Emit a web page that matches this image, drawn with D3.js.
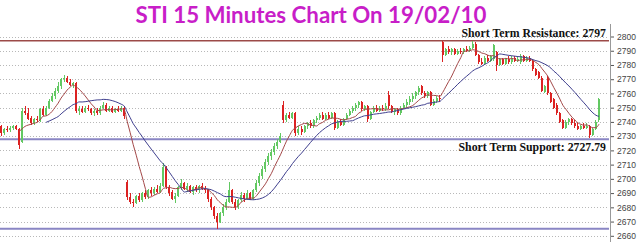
<!DOCTYPE html>
<html>
<head>
<meta charset="utf-8">
<script src="https://cdn.jsdelivr.net/npm/d3@7"></script>
<style>
  body { margin: 0; background: #fff; }
  svg { display: block; }
</style>
</head>
<body>
<div id="chart"></div>
<script>
const width = 640, height = 242;

// 15 minute bars
const opens = [2737,2732,2735,2734,2736,2737,2735,2726,2748,2746,2743,2739,2742,2741,2749,2745,2750,2755,2758,2762,
  2765,2770,2771,2768,2766,2767,2748,2749,2747,2750,2749,2746,2748,2746,2750,2752,2748,2750,2747,2749,
  2748,2750,2698,2687,2684,2683,2688,2685,2690,2687,2692,2690,2693,2691,2695,2708,2694,2691,2686,2688,
  2694,2697,2693,2695,2691,2694,2692,2695,2693,2692,2686,2680,2674,2670,2676,2680,2684,2692,2684,2680,
  2685,2689,2686,2690,2686,2692,2697,2702,2707,2712,2716,2719,2723,2726,2752,2741,2745,2743,2746,2732,
  2735,2733,2737,2739,2737,2741,2743,2745,2742,2745,2743,2746,2736,2740,2738,2742,2745,2748,2750,2752,
  2754,2749,2751,2742,2747,2750,2748,2750,2749,2759,2751,2747,2749,2746,2750,2752,2754,2756,2758,2761,
  2765,2760,2758,2761,2752,2755,2757,2796,2787,2791,2789,2791,2788,2790,2789,2791,2790,2792,2795,2787,
  2782,2781,2785,2783,2784,2789,2780,2784,2781,2784,2782,2785,2783,2782,2786,2783,2785,2783,2777,2775,
  2771,2761,2771,2760,2756,2752,2746,2741,2736,2740,2742,2739,2737,2735,2737,2736,2737,2731,2735,2741];
const highs = [2738,2736,2737,2737,2738,2738,2736,2750,2751,2750,2744,2743,2744,2750,2751,2751,2756,2760,2764,2768,
  2771,2773,2772,2770,2768,2768,2751,2751,2751,2752,2750,2749,2750,2751,2754,2753,2751,2751,2750,2751,
  2751,2751,2699,2690,2686,2689,2690,2691,2692,2693,2694,2694,2696,2697,2711,2709,2696,2692,2690,2695,
  2700,2698,2697,2696,2695,2696,2696,2697,2695,2693,2687,2681,2676,2677,2682,2686,2698,2693,2686,2686,
  2691,2690,2692,2691,2693,2699,2704,2709,2714,2718,2721,2725,2728,2732,2755,2746,2747,2747,2747,2737,
  2737,2738,2740,2741,2742,2744,2746,2747,2746,2747,2747,2747,2741,2742,2743,2746,2749,2751,2753,2755,
  2755,2752,2752,2748,2751,2752,2751,2752,2753,2762,2752,2750,2750,2751,2753,2756,2758,2760,2762,2765,
  2766,2762,2762,2762,2756,2758,2759,2797,2792,2793,2792,2792,2791,2792,2792,2793,2793,2797,2796,2788,
  2785,2786,2787,2787,2795,2790,2785,2785,2785,2786,2786,2786,2786,2788,2787,2786,2786,2784,2778,2776,
  2772,2766,2772,2761,2757,2753,2747,2742,2741,2743,2743,2741,2739,2738,2739,2739,2738,2736,2741,2757];
const lows = [2730,2731,2733,2733,2734,2734,2721,2725,2745,2741,2738,2738,2740,2740,2744,2744,2749,2754,2756,2760,
  2763,2768,2767,2765,2764,2746,2745,2746,2746,2748,2745,2744,2745,2745,2749,2747,2747,2746,2746,2747,
  2747,2742,2685,2682,2680,2682,2684,2684,2686,2686,2688,2689,2690,2690,2694,2693,2688,2685,2683,2687,
  2692,2692,2691,2690,2689,2691,2690,2692,2690,2684,2678,2672,2665,2669,2674,2678,2683,2682,2678,2679,
  2684,2684,2685,2685,2685,2691,2695,2700,2705,2710,2713,2717,2721,2725,2739,2740,2742,2742,2730,2731,
  2731,2732,2735,2736,2736,2739,2741,2741,2741,2742,2742,2734,2735,2737,2737,2741,2744,2746,2748,2750,
  2748,2748,2740,2741,2746,2747,2747,2748,2748,2749,2746,2745,2745,2745,2749,2750,2752,2754,2756,2759,
  2759,2757,2757,2751,2751,2753,2754,2782,2786,2788,2787,2787,2787,2788,2788,2789,2789,2791,2786,2781,
  2780,2780,2782,2782,2783,2776,2779,2780,2780,2781,2781,2782,2782,2781,2782,2782,2782,2776,2772,2770,
  2761,2760,2759,2753,2749,2745,2739,2735,2735,2738,2738,2736,2734,2734,2735,2735,2729,2730,2734,2740];
const closes = [2732,2735,2734,2736,2737,2735,2724,2748,2746,2742,2739,2742,2741,2749,2745,2750,2755,2758,2762,2765,
  2770,2771,2768,2766,2767,2748,2749,2747,2750,2749,2746,2748,2746,2750,2752,2748,2750,2747,2749,2748,
  2750,2744,2687,2684,2683,2688,2685,2690,2687,2692,2690,2693,2691,2695,2708,2694,2690,2686,2688,2694,
  2697,2693,2695,2691,2694,2692,2695,2693,2692,2686,2680,2674,2670,2676,2680,2684,2692,2684,2680,2685,
  2689,2686,2690,2686,2692,2697,2702,2707,2712,2716,2719,2723,2726,2730,2741,2745,2743,2746,2732,2735,
  2733,2737,2739,2737,2741,2743,2745,2742,2745,2743,2746,2736,2740,2738,2742,2745,2748,2750,2752,2754,
  2749,2751,2742,2747,2750,2748,2750,2749,2751,2751,2747,2749,2746,2750,2752,2754,2756,2758,2761,2764,
  2760,2758,2761,2752,2755,2757,2756,2787,2791,2789,2791,2788,2790,2789,2791,2790,2792,2795,2787,2782,
  2781,2785,2783,2786,2794,2780,2784,2781,2784,2782,2785,2783,2784,2786,2783,2785,2783,2777,2773,2771,
  2762,2765,2760,2754,2750,2746,2740,2736,2740,2742,2739,2737,2735,2737,2736,2737,2731,2735,2740,2756];

const yTicks = [2660,2670,2680,2690,2700,2710,2720,2730,2740,2750,2760,2770,2780,2790,2800];
const resistance = 2797;
const supports = [2727.79, 2665];
const maPeriods = [8, 20];
const maStarts = [6, 15];

const bars = closes.map((c, i) => ({i, o: opens[i], h: highs[i], l: lows[i], c}));

const svg = d3.select("#chart")
  .append("svg")
  .attr("width", width)
  .attr("height", height);

const x = d3.scaleBand()
  .domain(d3.range(bars.length))
  .range([0, 600])
  .paddingInner(1/3)
  .paddingOuter(0);

const y = d3.scaleLinear()
  .domain([2660, 2800])
  .range([235.8, 36.5]);

// dotted grid
svg.append("g")
  .selectAll("line")
  .data(yTicks)
  .join("line")
    .attr("x1", 0)
    .attr("x2", 609)
    .attr("y1", d => Math.round(y(d)) + 0.5)
    .attr("y2", d => Math.round(y(d)) + 0.5)
    .attr("stroke", "#b8b8b8")
    .attr("stroke-dasharray", "1,2");

// support / resistance
svg.append("line")
  .attr("x1", 0).attr("x2", 609)
  .attr("y1", y(resistance)).attr("y2", y(resistance))
  .attr("stroke", "#9c4a48")
  .attr("stroke-width", 1.5);

svg.append("g")
  .selectAll("line")
  .data(supports)
  .join("line")
    .attr("x1", 0).attr("x2", 609)
    .attr("y1", d => y(d)).attr("y2", d => y(d))
    .attr("stroke", "#8a86c4")
    .attr("stroke-width", 2);

// candles
const candle = svg.append("g")
  .attr("shape-rendering", "crispEdges")
  .selectAll("g")
  .data(bars)
  .join("g")
    .attr("fill", d => d.c >= d.o ? "#62c862" : "#dc2222");

candle.append("rect")
  .attr("x", d => x(d.i) + 0.5)
  .attr("width", 1)
  .attr("y", d => y(d.h))
  .attr("height", d => y(d.l) - y(d.h));

candle.append("rect")
  .attr("x", d => x(d.i))
  .attr("width", x.bandwidth())
  .attr("y", d => y(Math.max(d.o, d.c)))
  .attr("height", d => Math.max(1, Math.abs(y(d.o) - y(d.c))));

// moving averages
function sma(period, start) {
  return bars.filter(d => d.i >= start).map(d => {
    const w = closes.slice(Math.max(0, d.i - period + 1), d.i + 1);
    return {i: d.i, v: d3.mean(w)};
  });
}

const maLine = d3.line()
  .x(d => x(d.i) + x.bandwidth() / 2)
  .y(d => y(d.v))
  .curve(d3.curveMonotoneX);

const maColors = ["#a34848", "#3f3f8e"];
maPeriods.forEach((p, k) => {
  svg.append("path")
    .datum(sma(p, maStarts[k]))
    .attr("fill", "none")
    .attr("stroke", maColors[k])
    .attr("stroke-width", 1)
    .attr("d", maLine);
});

// right axis
const axis = svg.append("g")
  .attr("transform", "translate(610,0)")
  .call(d3.axisRight(y).tickValues(yTicks).tickSize(4).tickPadding(3).tickFormat(d3.format("d")));
axis.select(".domain").remove();
axis.selectAll("line").attr("stroke", "#555");
axis.selectAll("text")
  .attr("fill", "#444")
  .style("font", "8.5px 'Liberation Sans', Arial, sans-serif");
axis.append("line")
  .attr("x1", 0.5).attr("x2", 0.5)
  .attr("y1", 24).attr("y2", height)
  .attr("stroke", "#999");

// labels
svg.append("text")
  .attr("x", 311)
  .attr("y", 22.5)
  .attr("text-anchor", "middle")
  .attr("fill", "#c81ec8")
  .style("font", "bold 22.3px Lato, sans-serif")
  .text("STI 15 Minutes Chart On 19/02/10");

svg.append("text")
  .attr("x", 606)
  .attr("y", 37.3)
  .attr("text-anchor", "end")
  .attr("fill", "#111")
  .style("font", "bold 11.8px 'Liberation Serif', 'Times New Roman', serif")
  .text("Short Term Resistance: " + resistance);

svg.append("text")
  .attr("x", 606)
  .attr("y", 150.5)
  .attr("text-anchor", "end")
  .attr("fill", "#111")
  .style("font", "bold 11.8px 'Liberation Serif', 'Times New Roman', serif")
  .text("Short Term Support: " + supports[0]);
</script>
</body>
</html>
